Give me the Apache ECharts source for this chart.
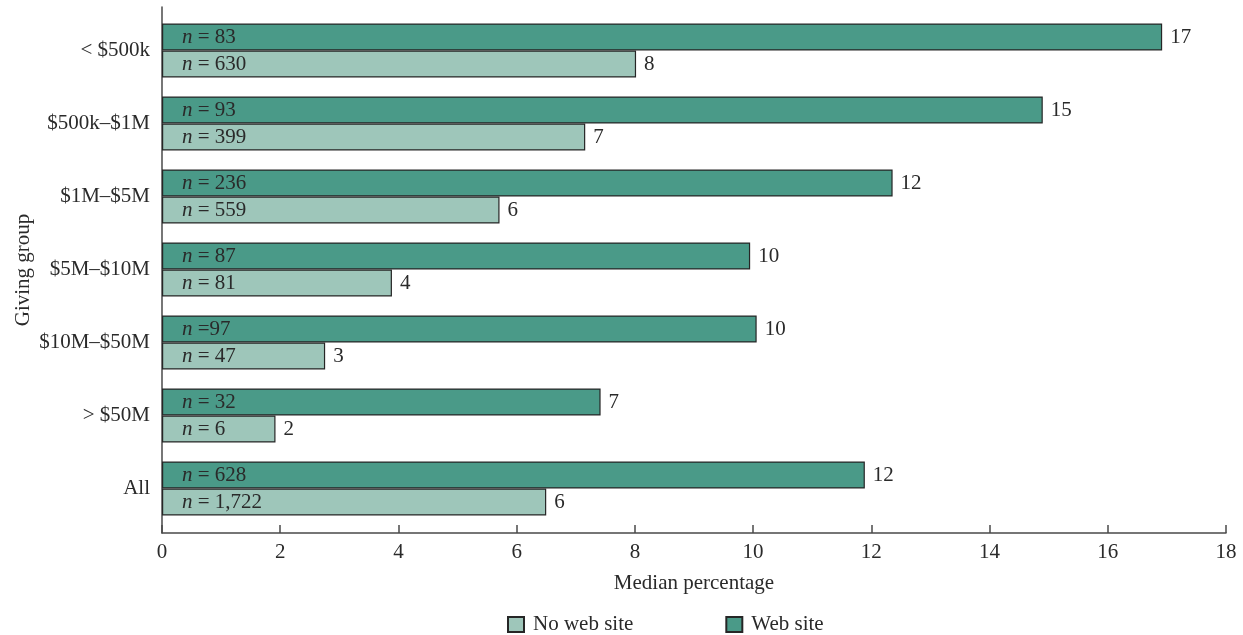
<!DOCTYPE html>
<html>
<head>
<meta charset="utf-8">
<script src="https://cdn.jsdelivr.net/npm/echarts@6/dist/echarts.min.js"></script>
<style>
    html, body { margin: 0; padding: 0; background: #fff; }
    #chart { width: 1243px; height: 635px; }
</style>
</head>
<body>
<div id="chart"></div>
<script>
// giving groups, top to bottom
const categories = ["< $500k", "$500k–$1M", "$1M–$5M", "$5M–$10M", "$10M–$50M", "> $50M", "All"];

// median percentage
const webSite = [16.92, 14.90, 12.36, 9.95, 10.06, 7.42, 11.89];
const noWebSite = [8.02, 7.16, 5.71, 3.89, 2.76, 1.92, 6.50];

// printed value labels at the bar ends
const webSiteLabels = ["17", "15", "12", "10", "10", "7", "12"];
const noWebSiteLabels = ["8", "7", "6", "4", "3", "2", "6"];

// sample sizes (text after the italic n)
const webSiteN = ["= 83", "= 93", "= 236", "= 87", "=97", "= 32", "= 628"];
const noWebSiteN = ["= 630", "= 399", "= 559", "= 81", "= 47", "= 6", "= 1,722"];

const xMin = 0;
const xMax = 18;
const xInterval = 2;

const font = "Liberation Serif";
const fontSize = 21;
const textColor = "#2a2a2a";
const axisColor = "#4a4a4a";
const darkGreen = "#4a9a88";
const lightGreen = "#9ec6ba";
const borderColor = "#262626";

const chart = echarts.init(document.getElementById("chart"), null, { renderer: "canvas" });

const nLabel = (list) => ({
    show: true,
    position: [20, "50%"],
    verticalAlign: "middle",
    formatter: (p) => "{i|n}{r| " + list[p.dataIndex] + "}",
    rich: {
        i: { fontFamily: font, fontSize: fontSize, fontStyle: "italic", color: textColor },
        r: { fontFamily: font, fontSize: fontSize, color: textColor }
    }
});

const valueLabel = (list) => ({
    show: true,
    position: "right",
    distance: 8,
    fontFamily: font,
    fontSize: fontSize,
    color: textColor,
    formatter: (p) => list[p.dataIndex]
});

const option = {
    animation: false,
    backgroundColor: "#fff",
    textStyle: { fontFamily: font },
    grid: [
        // bars
        { left: 162, right: 17, top: 14, bottom: 110 },
        // axis frame (a bit taller than the bar area)
        { left: 162, right: 17, top: 7, bottom: 102 }
    ],
    legend: {
        data: ["No web site", "Web site"],
        left: 502,
        top: 609,
        icon: "rect",
        itemWidth: 16,
        itemHeight: 15,
        itemGap: 92,
        textStyle: { fontFamily: font, fontSize: fontSize, color: textColor, padding: [0, 0, 0, 4] }
    },
    xAxis: [
        { gridIndex: 0, type: "value", min: xMin, max: xMax, interval: xInterval, show: false },
        {
            gridIndex: 1,
            type: "value",
            min: xMin,
            max: xMax,
            interval: xInterval,
            name: "Median percentage",
            nameLocation: "middle",
            nameGap: 40,
            nameTextStyle: { fontFamily: font, fontSize: fontSize, color: textColor },
            axisLine: { show: true, onZero: false, lineStyle: { color: axisColor, width: 1.5 } },
            axisTick: { show: true, inside: true, length: 8, lineStyle: { color: axisColor, width: 1.5 } },
            axisLabel: { fontFamily: font, fontSize: fontSize, color: textColor, margin: 9 },
            splitLine: { show: false }
        }
    ],
    yAxis: [
        {
            gridIndex: 0,
            type: "category",
            inverse: true,
            data: categories,
            axisLine: { show: false },
            axisTick: { show: false },
            axisLabel: { fontFamily: font, fontSize: fontSize, color: textColor, margin: 12 }
        },
        // hidden twin axis for the end-of-bar value labels
        { gridIndex: 0, type: "category", inverse: true, data: categories, show: false },
        {
            gridIndex: 1,
            type: "value",
            min: 0,
            max: 1,
            name: "Giving group",
            nameLocation: "middle",
            nameGap: 128,
            nameTextStyle: { fontFamily: font, fontSize: fontSize, color: textColor },
            axisLine: { show: true, onZero: false, lineStyle: { color: axisColor, width: 1.5 } },
            axisTick: { show: false },
            axisLabel: { show: false },
            splitLine: { show: false }
        }
    ],
    series: [
        {
            name: "Web site",
            type: "bar",
            xAxisIndex: 0,
            yAxisIndex: 0,
            barWidth: 27,
            barGap: "0%",
            data: webSite,
            itemStyle: { color: darkGreen, borderColor: borderColor, borderWidth: 1.2 },
            label: nLabel(webSiteN)
        },
        {
            name: "No web site",
            type: "bar",
            xAxisIndex: 0,
            yAxisIndex: 0,
            barWidth: 27,
            barGap: "0%",
            data: noWebSite,
            itemStyle: { color: lightGreen, borderColor: borderColor, borderWidth: 1.2 },
            label: nLabel(noWebSiteN)
        },
        {
            name: "webSiteValue",
            type: "bar",
            xAxisIndex: 0,
            yAxisIndex: 1,
            barWidth: 27,
            barGap: "0%",
            data: webSite,
            silent: true,
            itemStyle: { color: "rgba(0,0,0,0)" },
            label: valueLabel(webSiteLabels)
        },
        {
            name: "noWebSiteValue",
            type: "bar",
            xAxisIndex: 0,
            yAxisIndex: 1,
            barWidth: 27,
            barGap: "0%",
            data: noWebSite,
            silent: true,
            itemStyle: { color: "rgba(0,0,0,0)" },
            label: valueLabel(noWebSiteLabels)
        }
    ]
};

chart.setOption(option);
</script>
</body>
</html>
